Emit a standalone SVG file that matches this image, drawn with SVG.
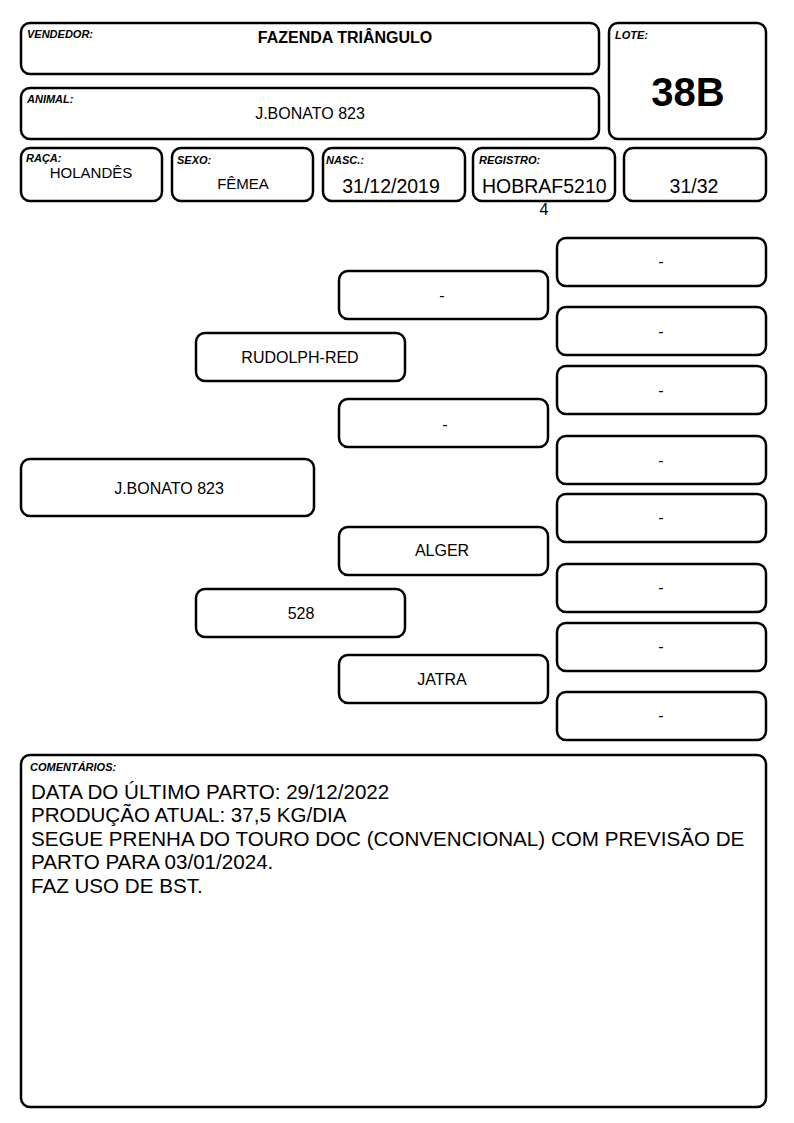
<svg xmlns="http://www.w3.org/2000/svg" width="794" height="1123" viewBox="0 0 794 1123">
<style>
.b{fill:#fff;stroke:#000;stroke-width:2.5}
.l{font-family:"Liberation Sans",Arial,sans-serif;font-size:11px;font-weight:bold;font-style:italic;fill:#000}
.t{font-family:"Liberation Sans",Arial,sans-serif;font-size:16px;fill:#000;text-anchor:middle}
.s{font-size:15px}
.v{font-family:"Liberation Sans",Arial,sans-serif;font-size:19.5px;fill:#000;text-anchor:middle}
.st{text-anchor:start}
.c{font-family:"Liberation Sans",Arial,sans-serif;font-size:20.6px;fill:#000}
</style>
<rect width="794" height="1123" fill="#fff"/>
<g id="vendedor"><rect class="b" x="21" y="23" width="578" height="51" rx="9"/><text class="l" x="27" y="38">VENDEDOR:</text><text class="t" x="345" y="43" font-weight="bold">FAZENDA TRIÂNGULO</text></g>
<g id="animal"><rect class="b" x="21" y="88" width="578" height="51" rx="9"/><text class="l" x="27" y="103">ANIMAL:</text><text class="t" x="310" y="119">J.BONATO 823</text></g>
<g id="lote"><rect class="b" x="609" y="23" width="157" height="116" rx="9"/><text class="l" x="615" y="39">LOTE:</text><text x="688" y="106" font-family="Liberation Sans,Arial,sans-serif" font-size="40" font-weight="bold" text-anchor="middle">38B</text></g>
<g id="raca"><rect class="b" x="21" y="148" width="141" height="53" rx="9"/><text class="l" x="26" y="162">RAÇA:</text><text class="t s" x="91" y="178">HOLANDÊS</text></g>
<g id="sexo"><rect class="b" x="172" y="148" width="141" height="53" rx="9"/><text class="l" x="177" y="164">SEXO:</text><text class="t s" x="243" y="189">FÊMEA</text></g>
<g id="nasc"><rect class="b" x="323" y="148" width="142" height="53" rx="9"/><text class="l" x="326" y="164">NASC.:</text><text class="v" x="391" y="193">31/12/2019</text></g>
<g id="registro"><rect class="b" x="473" y="148" width="142" height="53" rx="9"/><text class="l" x="479" y="164">REGISTRO:</text><text class="v st" x="482" y="193">HOBRAF5210</text><text class="t" x="544" y="215">4</text></g>
<g id="grau"><rect class="b" x="624" y="148" width="142" height="53" rx="9"/><text class="v" x="694" y="193">31/32</text></g>
<g id="connectors"></g>
<g id="p0"><rect class="b" x="21" y="459" width="293" height="57" rx="9"/><text class="t" x="169" y="494">J.BONATO 823</text></g>
<g id="p1"><rect class="b" x="196" y="333" width="209" height="48" rx="9"/><text class="t" x="300" y="363">RUDOLPH-RED</text></g>
<g id="p2"><rect class="b" x="196" y="589" width="209" height="48" rx="9"/><text class="t" x="301" y="619">528</text></g>
<g id="p3"><rect class="b" x="339" y="271" width="209" height="48" rx="9"/><text class="t" x="442" y="301">-</text></g>
<g id="p4"><rect class="b" x="339" y="399" width="209" height="48" rx="9"/><text class="t" x="445" y="430">-</text></g>
<g id="p5"><rect class="b" x="339" y="527" width="209" height="48" rx="9"/><text class="t" x="442" y="556">ALGER</text></g>
<g id="p6"><rect class="b" x="339" y="655" width="209" height="48" rx="9"/><text class="t" x="442" y="685">JATRA</text></g>
<g id="p7"><rect class="b" x="557" y="238" width="209" height="48" rx="9"/><text class="t" x="661" y="267">-</text></g>
<g id="p8"><rect class="b" x="557" y="307" width="209" height="48" rx="9"/><text class="t" x="661" y="337">-</text></g>
<g id="p9"><rect class="b" x="557" y="366" width="209" height="48" rx="9"/><text class="t" x="661" y="396">-</text></g>
<g id="p10"><rect class="b" x="557" y="436" width="209" height="48" rx="9"/><text class="t" x="661" y="466">-</text></g>
<g id="p11"><rect class="b" x="557" y="494" width="209" height="48" rx="9"/><text class="t" x="661" y="523">-</text></g>
<g id="p12"><rect class="b" x="557" y="564" width="209" height="48" rx="9"/><text class="t" x="661" y="593">-</text></g>
<g id="p13"><rect class="b" x="557" y="623" width="209" height="48" rx="9"/><text class="t" x="661" y="652">-</text></g>
<g id="p14"><rect class="b" x="557" y="692" width="209" height="48" rx="9"/><text class="t" x="661" y="721">-</text></g>
<g id="comentarios"><rect class="b" x="21" y="755" width="745" height="352" rx="9"/><text class="l" x="30" y="771">COMENTÁRIOS:</text>
<text class="c" x="31" y="799">DATA DO ÚLTIMO PARTO: 29/12/2022</text>
<text class="c" x="31" y="822">PRODUÇÃO ATUAL: 37,5 KG/DIA</text>
<text class="c" x="31" y="846">SEGUE PRENHA DO TOURO DOC (CONVENCIONAL) COM PREVISÃO DE</text>
<text class="c" x="31" y="869">PARTO PARA 03/01/2024.</text>
<text class="c" x="31" y="893">FAZ USO DE BST.</text></g>
</svg>
